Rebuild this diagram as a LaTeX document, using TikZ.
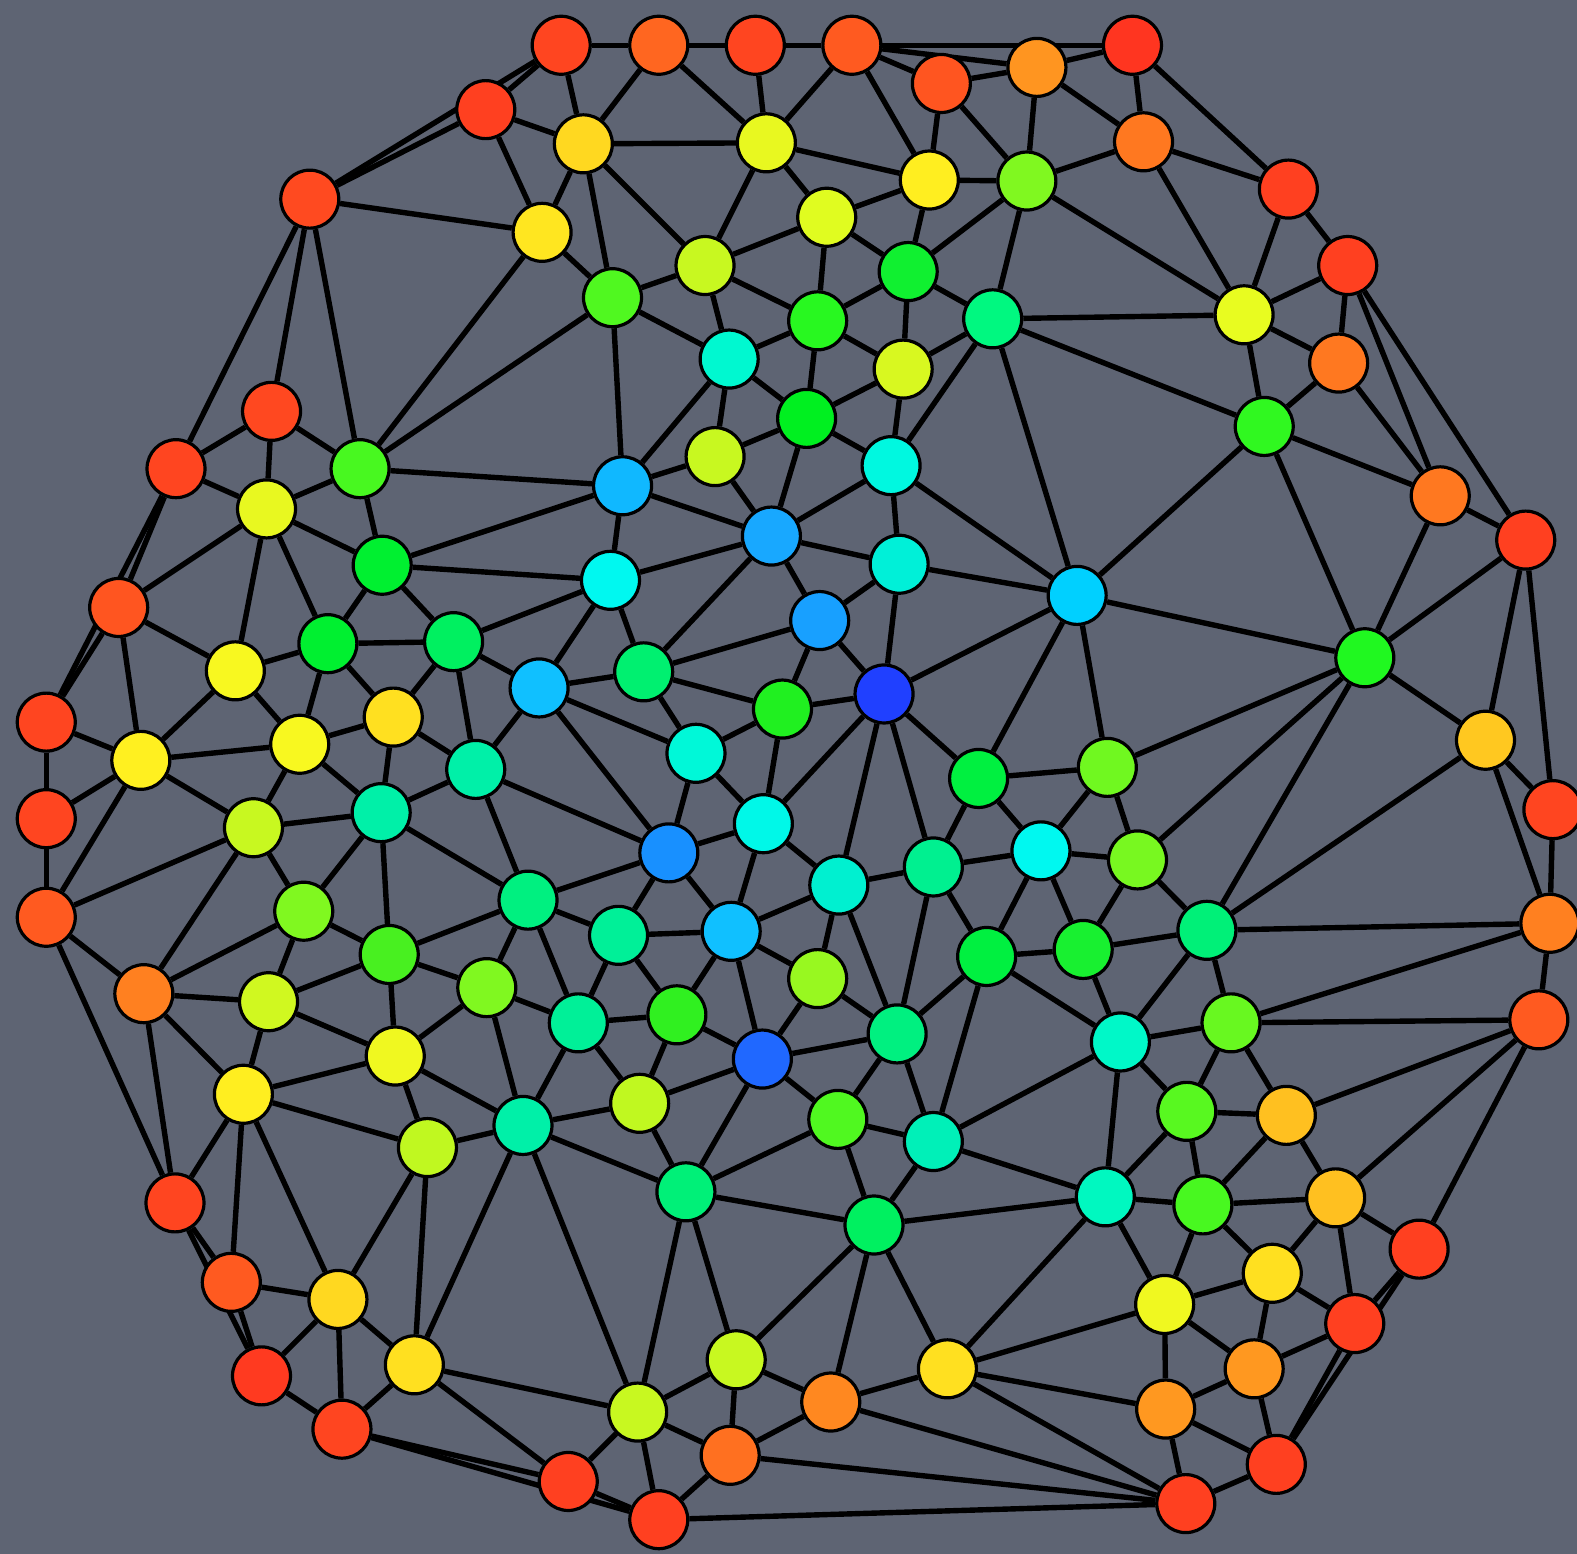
\documentclass[tikz,border=0pt]{standalone}
\usepackage{tikz}
\pgfdeclarelayer{back}
\pgfdeclarelayer{edges}
\pgfsetlayers{back,edges,main}
\definecolor{board}{HTML}{5E6473}
\tikzset{
  v/.style={circle, draw=black, line width=1.6pt, minimum size=29pt, inner sep=0pt},
  edge/.style={draw=black, line width=2.7pt}
}
\begin{document}
\begin{tikzpicture}[x=0.50287pt, y=-0.50287pt]
\begin{pgfonlayer}{back}
\fill[board] (0,0) rectangle (1568,1545);
\end{pgfonlayer}
\useasboundingbox (0,0) rectangle (1568,1545);
\foreach \n/\x/\y/\c in {
1/558/45/FF4520, 2/655/45/FF6620, 3/751/45/FF4520, 4/847/45/FF5A20, 5/936/83/FF5520,
6/1031/67/FF9520, 7/1126/45/FF3520, 8/483/109/FF4020, 9/580/143/FFD820, 10/762/142/E8F820,
11/924/179/FFEE20, 12/1021/180/80F820, 13/1137/141/FF7820, 14/308/198/FF4A20, 15/539/231/FFE620,
16/822/216/E0FC20, 17/701/264/C8F820, 18/903/270/10F030, 19/609/296/50F820, 20/813/319/28F820,
21/987/317/00F880, 22/1237/313/E8FC20, 23/1281/188/FF4020, 24/1340/264/FF4020, 25/1331/361/FF7820,
26/725/357/00F8D0, 27/898/367/D8F820, 28/802/416/00F020, 29/1257/424/30F820, 30/270/409/FF4820,
31/175/466/FF4520, 32/358/466/48F820, 33/711/454/C8F820, 34/886/463/00F8E0, 35/619/483/10B8FF,
36/265/506/E8F820, 37/1432/493/FF7820, 38/1517/537/FF4020, 39/767/533/18A8FF, 40/380/562/00F030,
41/607/577/00F8F0, 42/894/561/00F0D8, 43/1071/592/00D0FF, 44/118/604/FF5520, 45/815/617/18A0FF,
46/326/640/00F030, 47/451/638/00F060, 48/234/667/F8F820, 49/640/668/00F070, 50/536/684/10C0FF,
51/879/690/2040FF, 52/1357/654/20F820, 53/391/713/FFE020, 54/46/718/FF4520, 55/778/705/20F020,
56/298/740/F8F820, 57/140/756/FFF020, 58/692/749/00F8D8, 59/473/765/00F0A8, 60/973/774/00F040,
61/1101/763/70F820, 62/1477/736/FFC820, 63/46/814/FF4520, 64/252/823/C8F820, 65/379/808/00F0A8,
66/759/819/00F8E8, 67/1544/805/FF4520, 68/665/848/1890FF, 69/834/880/00F0D0, 70/928/862/00F090,
71/1035/846/00F8F0, 72/1131/855/78F820, 73/46/912/FF5A20, 74/302/906/80F820, 75/525/895/00F080,
76/1200/925/00F078, 77/1541/918/FF8020, 78/615/930/00F098, 79/727/926/10C0FF, 80/387/949/48F020,
81/981/951/00F040, 82/1077/944/18F030, 83/143/988/FF8020, 84/267/996/D0F820, 85/484/982/80F820,
86/813/973/98F820, 87/575/1017/00F098, 88/673/1009/30F020, 89/892/1028/00F080, 90/1224/1017/68F820,
91/1530/1014/FF5A20, 92/758/1053/2068FF, 93/1114/1036/00F8C8, 94/393/1050/F0F820, 95/242/1088/FFEE20,
96/636/1097/C0F820, 97/520/1119/00F0A8, 98/425/1141/C0F820, 99/833/1113/50F820, 100/928/1135/00F0B8,
101/1180/1105/58F820, 102/1279/1109/FFC020, 103/682/1185/00F078, 104/869/1218/00F060, 105/1099/1190/00F8C0,
106/1196/1198/48F820, 107/1328/1191/FFC020, 108/174/1196/FF4520, 109/1411/1242/FF4020, 110/230/1275/FF5A20,
111/336/1292/FFD820, 112/1265/1266/FFE020, 113/1158/1297/F0F820, 114/1347/1316/FF4020, 115/260/1368/FF3A20,
116/412/1357/FFE020, 117/732/1352/C8F820, 118/942/1361/FFE020, 119/1247/1361/FF9820, 120/634/1404/C8F820,
121/826/1394/FF8820, 122/1159/1401/FF9820, 123/340/1421/FF4520, 124/726/1447/FF7020, 125/565/1473/FF4020,
126/1269/1456/FF4020, 127/655/1511/FF4020, 128/1179/1495/FF4020}
{\definecolor{tmpc}{HTML}{\c}\node[v, fill=tmpc] (n\n) at (\x,\y) {};}
\begin{pgfonlayer}{edges}
\foreach \a/\b in {
1/2, 2/3, 3/4, 4/7, 4/5, 4/6, 5/6, 6/7,
1/8, 8/14, 1/14, 1/9, 2/9, 2/10, 3/10, 4/10, 4/11, 5/11, 5/12, 6/12, 6/13, 7/13, 7/23,
8/9, 8/15, 9/15, 9/10, 9/19, 9/17, 10/17, 10/16, 10/11,
11/16, 11/12, 11/18, 12/13, 12/18, 12/21, 12/22, 13/22, 13/23,
14/15, 14/30, 14/31, 14/32, 15/19, 15/32,
16/17, 16/18, 16/20, 17/19, 17/20, 17/26, 18/20, 18/21, 18/27,
19/26, 19/32, 19/35, 20/26, 20/27, 20/28,
21/22, 21/27, 21/29, 21/34, 21/43, 22/23, 22/24, 22/25, 22/29, 23/24,
24/25, 24/37, 24/38, 25/29, 25/37, 26/28, 26/33, 26/35, 27/28, 27/34,
28/33, 28/34, 28/39, 29/37, 29/43, 29/52, 30/31, 30/32, 30/36,
31/36, 31/44, 31/54, 44/54, 32/35, 32/36, 32/40, 33/35, 33/39,
34/39, 34/42, 34/43, 35/39, 35/40, 35/41, 36/44, 36/48, 36/46, 36/40,
37/38, 37/52, 38/52, 38/62, 38/67, 39/41, 39/42, 39/45, 39/49,
40/41, 40/46, 40/47, 41/47, 41/49, 41/50, 42/43, 42/45, 42/51,
43/51, 43/52, 43/60, 43/61, 44/48, 44/57, 45/49, 45/51, 45/55,
46/47, 46/48, 46/53, 46/56, 47/50, 47/53, 47/59, 48/57, 48/56,
49/50, 49/55, 49/58, 50/58, 50/59, 50/68, 51/55, 51/60, 51/66, 51/69, 51/70,
52/61, 52/62, 52/72, 52/76, 53/56, 53/65, 53/59, 54/57, 54/63, 55/58, 55/66,
56/57, 56/65, 56/64, 57/63, 57/73, 57/64, 58/66, 58/68, 59/65, 59/68, 59/75,
60/61, 60/70, 60/71, 61/71, 61/72, 62/67, 62/77, 62/76, 63/73,
64/65, 64/73, 64/74, 64/83, 65/74, 65/80, 65/75, 66/68, 66/69, 66/79, 67/77,
68/75, 68/78, 68/79, 69/70, 69/79, 69/86, 69/89, 70/71, 70/81, 70/89,
71/72, 71/81, 71/82, 72/76, 72/82, 73/83, 73/108, 74/80, 74/83, 74/84,
75/78, 75/80, 75/85, 75/87, 76/77, 76/82, 76/90, 76/93, 77/90, 77/91,
78/79, 78/87, 78/88, 79/88, 79/86, 79/92, 80/84, 80/85, 80/94,
81/82, 81/89, 81/100, 81/93, 82/93, 83/84, 83/95, 83/108, 84/94, 84/95,
85/87, 85/94, 85/97, 86/89, 86/92, 87/88, 87/97, 87/96, 88/96, 88/92,
89/92, 89/99, 89/100, 90/91, 90/93, 90/101, 90/102, 91/102, 91/107, 91/109,
92/96, 92/99, 92/103, 93/100, 93/101, 93/105, 94/95, 94/97, 94/98,
95/98, 95/108, 95/110, 95/111, 96/97, 96/103, 97/98, 97/103, 97/116, 97/120,
98/111, 98/116, 99/100, 99/103, 99/104, 100/104, 100/105,
101/102, 101/105, 101/106, 102/106, 102/107, 103/104, 103/117, 103/120,
104/105, 104/117, 104/118, 104/121, 105/106, 105/113, 105/118,
106/107, 106/112, 106/113, 107/109, 107/112, 107/114,
108/110, 108/115, 110/115, 109/114, 109/126, 114/126, 110/111,
111/115, 111/116, 111/123, 112/113, 112/114, 112/119,
113/118, 113/119, 113/122, 114/119, 115/123, 116/120, 116/123, 116/125,
117/120, 117/121, 117/124, 118/121, 118/122, 118/128, 119/122, 119/126,
120/124, 120/125, 120/127, 121/124, 121/128, 122/126, 122/128,
123/125, 123/127, 125/127, 124/127, 124/128, 126/128, 127/128}
{\draw[edge] (n\a) -- (n\b);}
\end{pgfonlayer}
\end{tikzpicture}
\end{document}
